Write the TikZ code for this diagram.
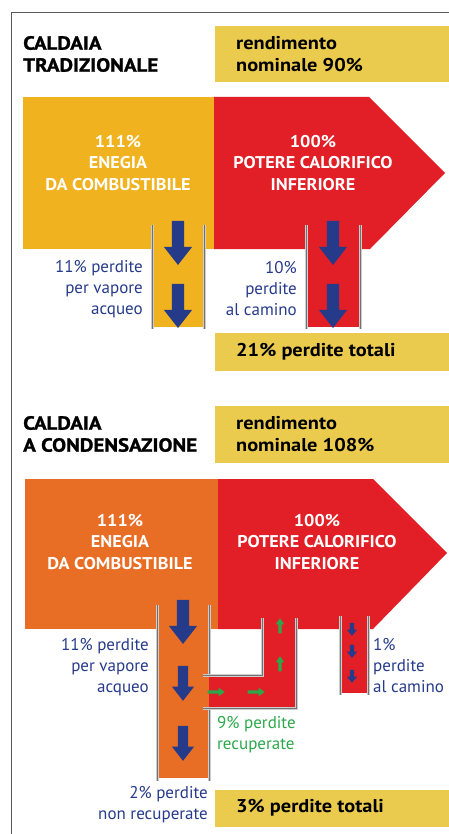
\documentclass[tikz,border=0pt]{standalone}
\usepackage{fontspec}
\setmainfont{PT Sans}
\newfontfamily\titlefont[FakeStretch=1.1, FakeBold=1.2]{PT Sans Bold}
\newfontfamily\boxfont[FakeStretch=1.1]{PT Sans Bold}
\newfontfamily\flowfont[FakeStretch=1.07]{PT Sans Bold}
\usetikzlibrary{shapes.arrows}

\definecolor{giallo}{HTML}{F0B21E}
\definecolor{arancio}{HTML}{E96E25}
\definecolor{rosso}{HTML}{E21F26}
\definecolor{ocra}{HTML}{EBCB4E}
\definecolor{blu}{HTML}{263A8A}
\definecolor{verde}{HTML}{2BA84A}

\tikzset{
  wall/.style={draw=black!55, line width=0.9pt, preaction={draw=black!20, line width=3pt}},
  title/.style={anchor=west, align=left, inner sep=0pt, font=\fontsize{19}{22}\titlefont},
  boxtext/.style={anchor=west, align=left, inner sep=0pt, font=\fontsize{18.5}{22}\boxfont},
  flowtext/.style={align=center, inner sep=0pt, text=white, font=\fontsize{17}{21.5}\flowfont},
  losstext/.style={inner sep=0pt, text=blu, font=\fontsize{17}{21}\selectfont},
  downarrow/.style={shape=single arrow, fill=blu, rotate=-90, inner xsep=0pt, inner ysep=6pt, minimum height=44pt, single arrow head extend=8pt, single arrow tip angle=76},
  middownarrow/.style={downarrow, inner ysep=5pt, minimum height=35pt, single arrow head extend=6pt},
  smalldownarrow/.style={downarrow, inner ysep=2pt, minimum height=13pt, single arrow head extend=3pt, single arrow tip angle=80},
  greenarrow/.style={shape=single arrow, fill=verde, inner xsep=0pt, inner ysep=1.5pt, minimum height=15pt, single arrow head extend=2.5pt, single arrow tip angle=70}
}

\begin{document}
\begin{tikzpicture}[x=1pt,y=-1pt]
\useasboundingbox (0,0) rectangle (449,834);
\draw [black!65, line width=0.8pt] (449,12) -- (11,12) -- (11,834);

% caldaia tradizionale
\fill [ocra] (215,26) rectangle (449,82);
\path (23,54) node (tit1) [title] {CALDAIA\\TRADIZIONALE};
\path (236,54) node (rend1) [boxtext] {rendimento\\nominale 90\%};

\fill [giallo] (23,97) rectangle (214,249);
\fill [rosso] (214,97) -- (369,97) -- (445,173) -- (370,249) -- (214,249) -- cycle;
\fill [giallo] (152,225) rectangle (204,327);
\fill [rosso] (306,225) rectangle (360,327);
\draw [wall] (152,225) -- (152,329);
\draw [wall] (204,225) -- (204,329);
\draw [wall] (306,225) -- (306,329);
\draw [wall] (360,225) -- (360,329);

\path (118,163) node (comb1) [flowtext] {111\%\\ENEGIA\\DA COMBUSTIBILE};
\path (313,163) node (pci1) [flowtext] {100\%\\POTERE CALORIFICO\\INFERIORE};

\path (178,239) node (va1) [downarrow] {};
\path (178,302) node (va2) [downarrow] {};
\path (333,239) node (ca1) [downarrow] {};
\path (333,302) node (ca2) [downarrow] {};

\path (143,289) node (vap1) [losstext, anchor=east, align=right] {11\% perdite\\per vapore\\acqueo};
\path (297,289) node (cam1) [losstext, anchor=east, align=right] {10\%\\perdite\\al camino};

\fill [ocra] (215,333) rectangle (449,371);
\path (236,352) node (tot1) [boxtext] {21\% perdite totali};

% caldaia a condensazione
\fill [ocra] (215,406) rectangle (449,463);
\path (23,434) node (tit2) [title] {CALDAIA\\A CONDENSAZIONE};
\path (236,434) node (rend2) [boxtext] {rendimento\\nominale 108\%};

\fill [arancio] (25,479) rectangle (218,629);
\fill [rosso] (218,479) -- (373,479) -- (447,553) -- (373,629) -- (218,629) -- cycle;
\fill [arancio] (157,605) rectangle (209,778);
\fill [rosso] (209,675) rectangle (296,708);
\fill [rosso] (262,618) rectangle (296,708);
\fill [rosso] (340,616) rectangle (368,693);
\draw [wall] (157,605) -- (157,781);
\draw [wall] (209,605) -- (209,675);
\draw [wall] (209,708) -- (209,781);
\draw [wall] (203,675) -- (262,675) -- (262,618);
\draw [wall] (203,708) -- (296,708) -- (296,618);
\draw [wall] (340,616) -- (340,695);
\draw [wall] (368,616) -- (368,695);

\path (120,542) node (comb2) [flowtext] {111\%\\ENEGIA\\DA COMBUSTIBILE};
\path (317,542) node (pci2) [flowtext] {100\%\\POTERE CALORIFICO\\INFERIORE};

\path (183,618) node (vb1) [downarrow] {};
\path (183,680) node (vb2) [middownarrow] {};
\path (183,740) node (vb3) [middownarrow] {};
\path (280,627) node (ru1) [greenarrow, rotate=90] {};
\path (280,665) node (ru2) [greenarrow, rotate=90] {};
\path (215,692) node (rr1) [greenarrow, minimum height=17pt] {};
\path (255,692) node (rr2) [greenarrow, minimum height=17pt] {};
\path (352,628) node (cb1) [smalldownarrow] {};
\path (352,650) node (cb2) [smalldownarrow] {};
\path (352,675) node (cb3) [smalldownarrow] {};

\path (149,667) node (vap2) [losstext, anchor=east, align=right] {11\% perdite\\per vapore\\acqueo};
\path (373,666) node (cam2) [losstext, anchor=west, align=left] {1\%\\perdite\\al camino};
\path (217,735) node (rec2) [losstext, text=verde, anchor=west, align=left] {9\% perdite\\recuperate};
\path (208,805) node (nrec2) [losstext, anchor=east, align=right] {2\% perdite\\non recuperate};

\fill [ocra] (215,790) rectangle (449,827);
\path (236,808) node (tot2) [boxtext] {3\% perdite totali};

\end{tikzpicture}
\end{document}
